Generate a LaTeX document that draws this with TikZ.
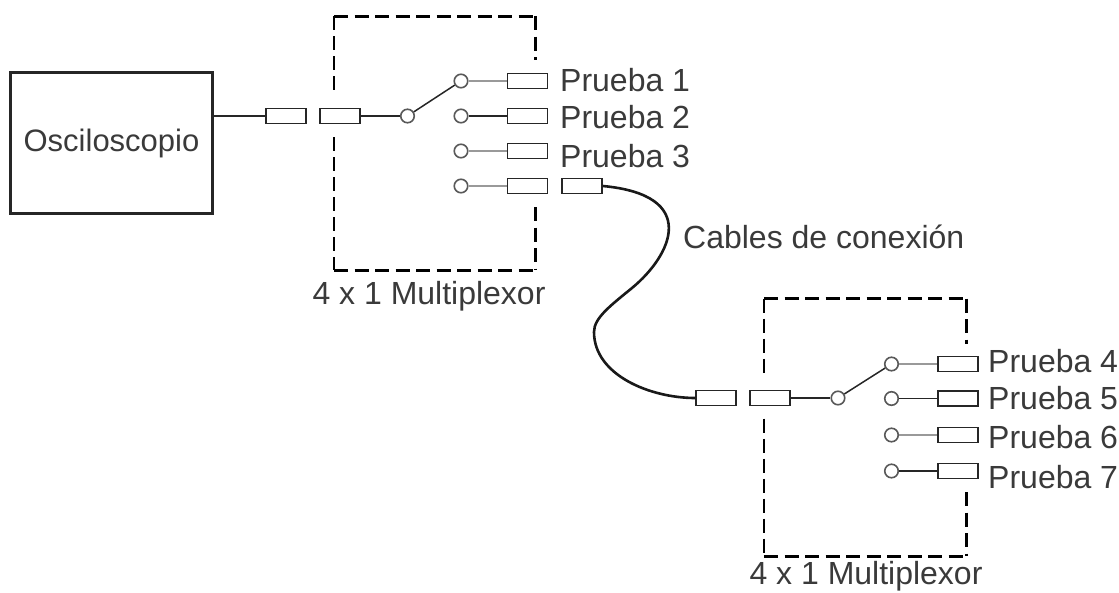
\documentclass[tikz,border=0pt]{standalone}
\usepackage{fontspec}
\setmainfont{Liberation Sans}
\usepackage{xcolor}
\definecolor{tinta}{HTML}{3A3A3A}
\tikzset{
  conector/.style={draw=black!85, line width=1.5pt, rectangle, inner sep=0pt, minimum width=40pt, minimum height=15pt},
  contacto/.style={draw=black!65, line width=1.6pt, circle, inner sep=0pt, minimum size=13.5pt},
  etiqueta/.style={text=tinta, inner sep=0pt, font=\fontsize{32}{32}\selectfont},
  hilo/.style={line width=1.5pt, black!85},
  hilogris/.style={line width=1.6pt, black!40},
  gruesa/.style={line width=3pt, dash pattern=on 14pt off 6.5pt},
  fina/.style={line width=1.7pt, dash pattern=on 14pt off 6pt},
}
\newcommand{\fcanal}[5]{\node[contacto] (#1c) at (#2,#4) {};
\node[conector] (#1r) at (#3,#4) {};
\draw[#5] (#1c) -- (#1r);}
\begin{document}
\begin{tikzpicture}[x=1pt,y=-1pt]
\useasboundingbox (0,0) rectangle (1119,592);
% Osciloscopio
\node[draw=black!85, line width=2.8pt, minimum width=202pt, minimum height=141pt, inner sep=0pt, etiqueta, font=\fontsize{31}{31}\selectfont] (osc) at (111.5,143) {Osciloscopio};
% primer multiplexor
\node[conector] (aent) at (286,116) {};
\node[conector] (asal) at (340,116) {};
\node[contacto] (acom) at (407.5,116) {};
\draw[hilo] (osc.east |- aent) -- (aent);
\draw[hilo] (asal) -- (acom);
\fcanal{auno}{461}{527.5}{81}{hilogris}
\fcanal{ados}{461}{527.5}{116}{hilo}
\fcanal{atres}{461}{527.5}{151}{hilogris}
\fcanal{acua}{461}{527.5}{186}{hilogris}
\draw[hilo] (acom) -- (aunoc);
\node[conector] (acab) at (582,186) {};
\coordinate (asi) at (334,96);
\coordinate (ano) at (334,16);
\coordinate (ane) at (535,16);
\coordinate (ads) at (535,60);
\coordinate (aii) at (334,137);
\coordinate (aso) at (334,270);
\coordinate (ase) at (535,270);
\coordinate (adi) at (535,207);
\draw[fina] (ano) -- (asi);
\draw[fina] (aii) -- (aso);
\draw[gruesa] (ano) -- (ane);
\draw[gruesa] (ane) -- (ads);
\draw[gruesa] (aso) -- (ase);
\draw[gruesa] (adi) -- (ase);
\node[etiqueta, anchor=west] (pa) at (560,80) {Prueba 1};
\node[etiqueta, anchor=west] (pb) at (560,117) {Prueba 2};
\node[etiqueta, anchor=west] (pc) at (560,156) {Prueba 3};
\node[etiqueta] (ma) at (429,296) {4 x 1 Multiplexor};
% cable entre los dos
\node[conector] (bent) at (716,398) {};
\coordinate (cmed) at (632,288);
\coordinate (cizq) at (594,332);
\draw[line width=2.6pt, black!90] (acab.east) .. controls (700,195) and (672,255) .. (cmed) .. controls (610,306) and (594,318) .. (cizq) .. controls (594,375) and (650,398) .. (bent.west);
\node[etiqueta, anchor=west] (cc) at (683,237) {Cables de conexión};
% segundo multiplexor
\node[conector] (bsal) at (770,398) {};
\node[contacto] (bcom) at (838,398) {};
\draw[hilo] (bsal) -- (bcom);
\fcanal{buno}{891.5}{958}{364}{hilogris}
\fcanal{bdos}{891.5}{958}{398.5}{hilo}
\fcanal{btres}{891.5}{958}{435}{hilogris}
\fcanal{bcua}{891.5}{958}{471}{hilo}
\draw[hilo] (bcom) -- (bunoc);
\coordinate (bsi) at (764,378);
\coordinate (bno) at (764,298.5);
\coordinate (bne) at (966,298.5);
\coordinate (bds) at (966,343.5);
\coordinate (bii) at (764,418.5);
\coordinate (bso) at (764,556);
\coordinate (bse) at (966,556);
\coordinate (bdi) at (966,492);
\draw[fina] (bno) -- (bsi);
\draw[fina] (bii) -- (bso);
\draw[gruesa] (bno) -- (bne);
\draw[gruesa] (bne) -- (bds);
\draw[gruesa] (bso) -- (bse);
\draw[gruesa] (bdi) -- (bse);
\node[etiqueta, anchor=west] (pd) at (988,361) {Prueba 4};
\node[etiqueta, anchor=west] (pe) at (988,398) {Prueba 5};
\node[etiqueta, anchor=west] (pf) at (988,437) {Prueba 6};
\node[etiqueta, anchor=west] (pg) at (988,477) {Prueba 7};
\node[etiqueta] (mb) at (866,576) {4 x 1 Multiplexor};
\end{tikzpicture}
\end{document}
